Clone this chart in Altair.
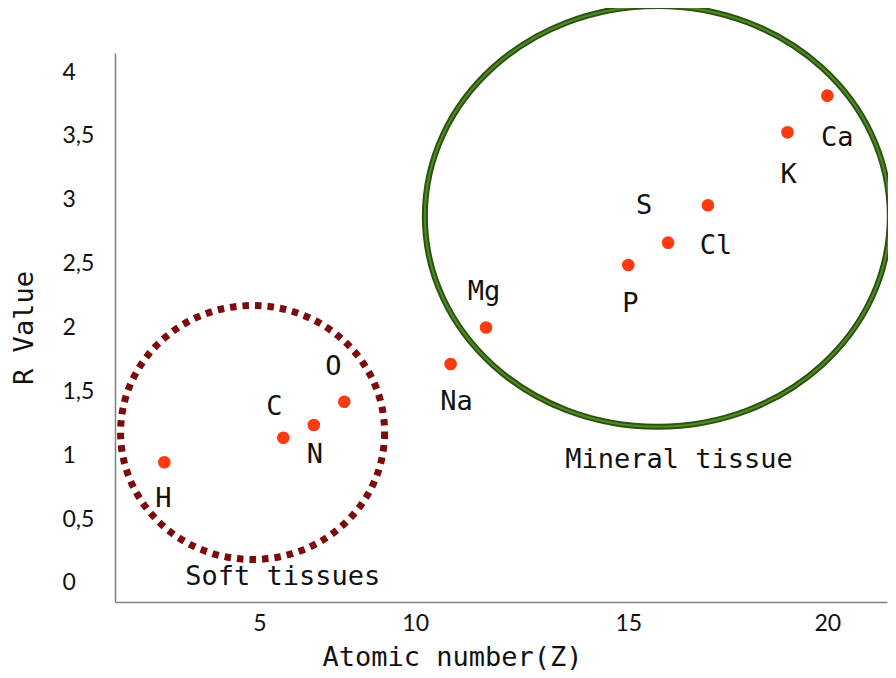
import altair as alt
import pandas as pd

# ---- data ----
elements = ["H", "C", "N", "O", "Na", "Mg", "P", "S", "Cl", "K", "Ca"]
atomic_number = [1, 6, 7, 8, 11, 12, 15, 16, 17, 19, 20]
r_value = [0.945, 1.137, 1.237, 1.419, 1.714, 2.0, 2.489, 2.664, 2.957, 3.528, 3.815]

x_ticks = [5, 10, 15, 20]
y_ticks = [0, 0.5, 1, 1.5, 2, 2.5, 3, 3.5, 4]

group_names = ["Soft tissues", "Mineral tissue"]
group_center_z = [4.71, 15.73]
group_center_r = [1.178, 2.870]
group_label_z = [1.88, 13.67]
group_label_r = [0.047, 0.963]

# ---- styles ----
LABEL_OFFSETS = {
    "H": (-1, 37), "C": (-9, -31), "N": (1, 30), "O": (-11, -35),
    "Na": (6, 38), "Mg": (-2, -36), "P": (2, 39), "S": (-24, -37),
    "Cl": (8, 41), "K": (1, 43), "Ca": (10, 42),
}
MONO = "DejaVu Sans Mono"
TXT = 27
PLOT_W, PLOT_H = 772, 549

df = pd.DataFrame({"symbol": elements, "z": atomic_number, "r": r_value})
groups = pd.DataFrame({"name": group_names, "z": group_center_z, "r": group_center_r})
glabels = pd.DataFrame({"name": group_names, "z": group_label_z, "r": group_label_r})

# hand-drawn, non-uniform atomic-number axis of the original (piecewise linear)
x_scale = alt.Scale(
    domain=[-1.07, 1, 6, 8, 12, 15, 20, 21.5],
    range=[0, 49.3, 168.3, 229.3, 371, 513.3, 712.3, PLOT_W],
    zero=False, nice=False,
)
y_scale = alt.Scale(domain=[-0.149, 4.149], zero=False, nice=False)

x_axis = alt.Axis(
    values=x_ticks, title="Atomic number(Z)", grid=False, ticks=False, tickSize=0,
    domainColor="#808080", domainWidth=1.5,
    labelFont="Lato", labelFontSize=23, labelColor="#111111",
    labelBaseline="middle", labelPadding=21, labelOverlap=False, labelFlush=False,
    titleFont=MONO, titleFontSize=TXT, titleFontWeight="normal", titleColor="#111111",
    titleX=337, titleY=63, titleAlign="center", titleBaseline="alphabetic",
)
y_axis = alt.Axis(
    values=y_ticks, title="R Value", grid=False, ticks=False, tickSize=0,
    domainColor="#808080", domainWidth=1.5,
    labelFont="Lato", labelFontSize=23, labelColor="#111111",
    labelAlign="left", labelPadding=53, labelOverlap=False, labelFlush=False,
    labelExpr="replace(format(datum.value, '~g'), '.', ',')",
    titleFont=MONO, titleFontSize=TXT, titleFontWeight="normal", titleColor="#111111",
    titleX=-91, titleY=PLOT_H / 2, titleBaseline="middle", titleAlign="center",
)

X = alt.X("z:Q", scale=x_scale, axis=x_axis)
Y = alt.Y("r:Q", scale=y_scale, axis=y_axis)


def ellipse_path(ratio):
    k = 0.5523
    r = ratio
    return (f"M1,0C1,{k*r:.4f},{k:.4f},{r:.4f},0,{r:.4f}"
            f"C{-k:.4f},{r:.4f},-1,{k*r:.4f},-1,0"
            f"C-1,{-k*r:.4f},{-k:.4f},{-r:.4f},0,{-r:.4f}"
            f"C{k:.4f},{-r:.4f},1,{-k*r:.4f},1,0Z")


soft = alt.Chart(groups).transform_filter(alt.datum.name == "Soft tissues").mark_point(
    shape=ellipse_path(0.962), size=(2 * 132) ** 2, filled=False, opacity=1,
    stroke="#7a0c0c", strokeWidth=7, strokeDash=[6.5, 6],
).encode(x=X, y=Y)

mineral_outer = alt.Chart(groups).transform_filter(alt.datum.name == "Mineral tissue").mark_point(
    shape=ellipse_path(0.905), size=(2 * 232.5) ** 2, filled=False, opacity=1,
    stroke="#2b520f", strokeWidth=6,
).encode(x=X, y=Y)

mineral_inner = alt.Chart(groups).transform_filter(alt.datum.name == "Mineral tissue").mark_point(
    shape=ellipse_path(0.905), size=(2 * 232.5) ** 2, filled=False, opacity=1,
    stroke="#4f8a24", strokeWidth=2,
).encode(x=X, y=Y)

points = alt.Chart(df).mark_circle(size=160, color="#ff3a12", opacity=1).encode(x=X, y=Y)

label_layers = []
for sym in elements:
    dx, dy = LABEL_OFFSETS[sym]
    label_layers.append(
        alt.Chart(df).transform_filter(alt.datum.symbol == sym).mark_text(
            dx=dx, dy=dy, font=MONO, fontSize=TXT, color="#111111",
            align="center", baseline="middle",
        ).encode(x=X, y=Y, text="symbol:N")
    )

group_text = alt.Chart(glabels).mark_text(
    font=MONO, fontSize=TXT, color="#111111", align="left", baseline="middle",
).encode(x=X, y=Y, text="name:N")

chart = alt.layer(
    soft, mineral_outer, mineral_inner, points, *label_layers, group_text
).properties(
    width=PLOT_W, height=PLOT_H,
    padding={"left": 107, "top": 45, "right": 1, "bottom": 68},
    autosize=alt.AutoSizeParams(type="none"),
).configure_view(stroke=None)

chart.save("out.html", embed_options={"renderer": "svg", "actions": False})
